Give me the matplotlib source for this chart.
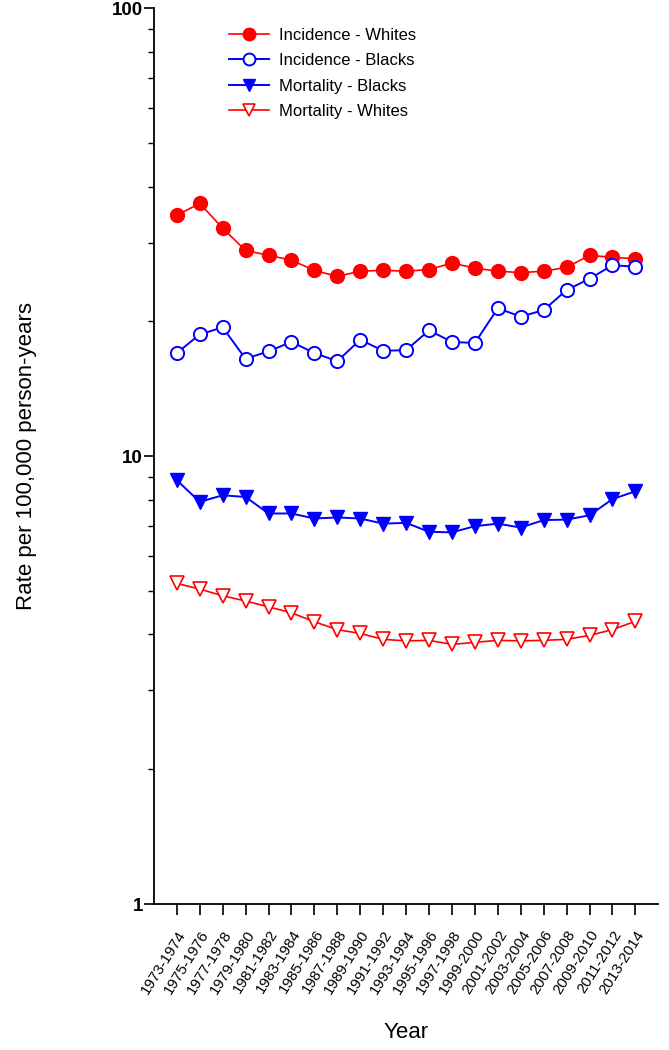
import matplotlib
matplotlib.use("Agg")
import matplotlib.pyplot as plt
from matplotlib.ticker import LogLocator, NullFormatter, FixedLocator, FixedFormatter

plt.rcParams['font.family'] = ['Liberation Sans', 'DejaVu Sans']

periods = ["1973-1974", "1975-1976", "1977-1978", "1979-1980", "1981-1982",
           "1983-1984", "1985-1986", "1987-1988", "1989-1990", "1991-1992",
           "1993-1994", "1995-1996", "1997-1998", "1999-2000", "2001-2002",
           "2003-2004", "2005-2006", "2007-2008", "2009-2010", "2011-2012",
           "2013-2014"]

inc_whites = [34.5, 36.7, 32.3, 28.8, 28.1, 27.4, 26.0, 25.2, 25.9, 26.0, 25.9,
              26.1, 27.0, 26.3, 25.9, 25.7, 25.9, 26.4, 28.1, 27.8, 27.6]
inc_blacks = [17.0, 18.7, 19.4, 16.5, 17.15, 18.0, 17.0, 16.3, 18.2, 17.2, 17.25,
              19.1, 18.0, 17.9, 21.4, 20.5, 21.2, 23.5, 24.9, 26.7, 26.5]
mort_blacks = [8.84, 7.91, 8.18, 8.11, 7.45, 7.45, 7.26, 7.30, 7.26, 7.07, 7.10,
               6.78, 6.76, 6.98, 7.07, 6.93, 7.20, 7.22, 7.38, 8.02, 8.35]
mort_whites = [5.20, 5.05, 4.88, 4.75, 4.61, 4.47, 4.27, 4.10, 4.02, 3.90, 3.87,
               3.88, 3.80, 3.84, 3.88, 3.87, 3.88, 3.90, 3.98, 4.10, 4.28]

x = list(range(len(periods)))

fig = plt.figure(figsize=(6.69, 10.5), dpi=100)
ax = fig.add_axes([0.230, 0.139, 0.754, 0.853])

ax.plot(x, inc_whites, color='#ff0000', lw=1.2, marker='o', ms=10,
        mfc='#ff0000', mec='#ff0000', label='Incidence - Whites')
ax.plot(x, inc_blacks, color='#0000ff', lw=1.4, marker='o', ms=9.5,
        mfc='white', mec='#0000ff', mew=1.4, label='Incidence - Blacks')
ax.plot(x, mort_blacks, color='#0000ff', lw=1.4, marker='v', ms=10,
        mfc='#0000ff', mec='#0000ff', label='Mortality - Blacks')
ax.plot(x, mort_whites, color='#ff0000', lw=1.2, marker='v', ms=10,
        mfc='white', mec='#ff0000', mew=1.2, label='Mortality - Whites')

ax.set_yscale('log')
ax.set_ylim(1, 100)
ax.set_xlim(-1, 21)

ax.yaxis.set_major_locator(FixedLocator([1, 10, 100]))
ax.yaxis.set_major_formatter(FixedFormatter(['1', '10', '100']))
ax.yaxis.set_minor_locator(LogLocator(base=10, subs=range(2, 10)))
ax.yaxis.set_minor_formatter(NullFormatter())
for lab in ax.get_yticklabels():
    lab.set_fontweight('bold')
    lab.set_fontsize(13.5)

ax.set_xticks(x)
ax.set_xticklabels(periods, rotation=58, ha='right', rotation_mode='anchor', fontsize=10.8)

ax.tick_params(axis='y', which='major', direction='out', length=7, width=1.2, pad=1)
ax.tick_params(axis='y', which='minor', direction='out', length=4, width=1)
ax.tick_params(axis='x', direction='out', length=8, width=1.2, pad=9)

ax.spines['top'].set_visible(False)
ax.spines['right'].set_visible(False)
ax.spines['left'].set_linewidth(1.3)
ax.spines['bottom'].set_linewidth(1.3)

ax.set_ylabel('Rate per 100,000 person-years', fontsize=16, labelpad=54)
ax.set_xlabel('Year', fontsize=16, labelpad=18)

ax.legend(loc='upper left', bbox_to_anchor=(0.12, 0.995), frameon=False,
          fontsize=12, handlelength=2.4, handletextpad=0.55, labelspacing=0.62,
          markerscale=0.9)

fig.savefig('out.png', dpi=100)
